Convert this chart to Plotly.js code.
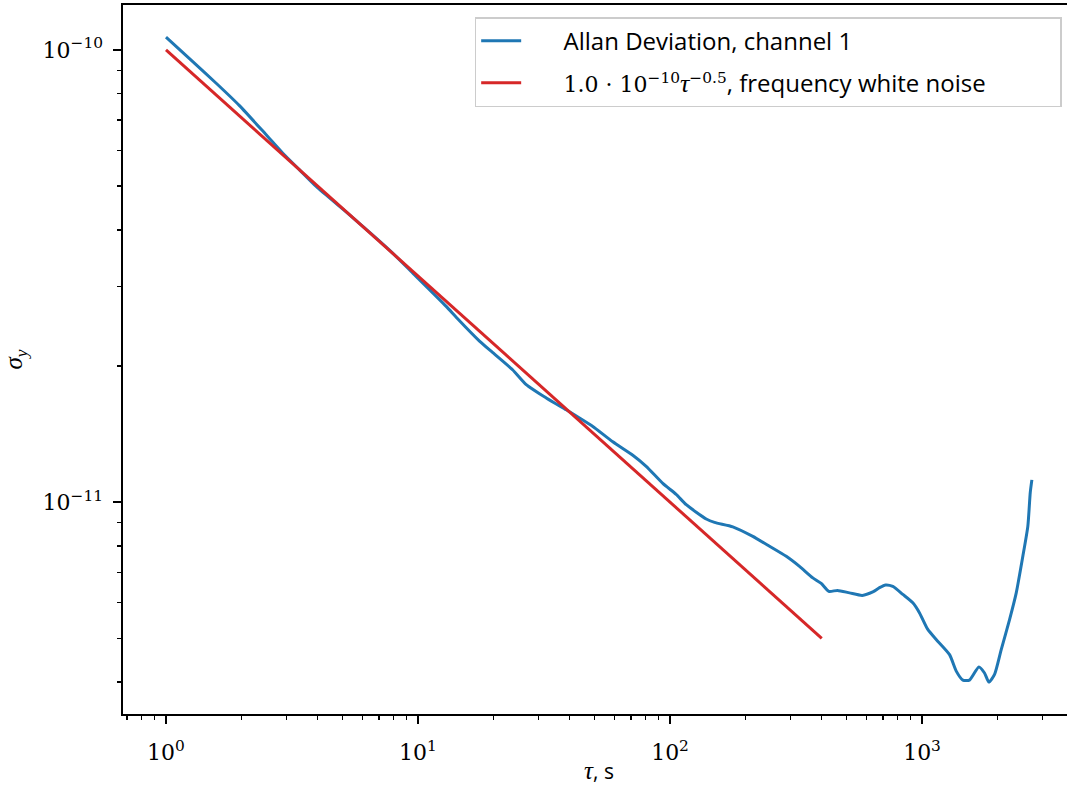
<!DOCTYPE html>
<html>
<head>
<meta charset="utf-8">
<script src="https://cdn.plot.ly/plotly-3.0.1.min.js"></script>
<style>
  html, body { margin: 0; padding: 0; background: #ffffff; overflow: hidden; }
  #chart { width: 1080px; height: 789px; }
</style>
</head>
<body>
<div id="chart"></div>
<script>
// Averaging time tau (s) and measured Allan deviation, channel 1
const tau = [1, 1.277, 1.582, 1.957, 2.498, 2.908, 3.387, 3.945, 5.349, 7.706,
  9.537, 12.94, 14.30, 17.54, 19.81, 23.78, 26.88, 32.28, 38.73, 43.74,
  49.40, 59.29, 71.18, 80.44, 93.63, 105.8, 116.0, 139.2, 150.2, 177.5,
  213.1, 248.3, 289.2, 326.5, 368.7, 398.1, 426.8, 462.0, 515.6, 579.2,
  638.0, 678.2, 716.5, 765.9, 839.0, 919.3, 977.5, 1054, 1138, 1286,
  1367, 1452, 1543, 1681, 1770, 1842, 1940, 2062, 2225, 2365,
  2512, 2629, 2688, 2728];
const adev = [1.067e-10, 9.42e-11, 8.44e-11, 7.53e-11, 6.49e-11, 5.91e-11, 5.43e-11, 4.99e-11, 4.32e-11, 3.61e-11,
  3.21e-11, 2.71e-11, 2.55e-11, 2.27e-11, 2.14e-11, 1.96e-11, 1.82e-11, 1.70e-11, 1.60e-11, 1.535e-11,
  1.47e-11, 1.36e-11, 1.27e-11, 1.20e-11, 1.10e-11, 1.04e-11, 9.87e-12, 9.18e-12, 9.02e-12, 8.82e-12,
  8.40e-12, 7.99e-12, 7.59e-12, 7.21e-12, 6.80e-12, 6.61e-12, 6.35e-12, 6.38e-12, 6.30e-12, 6.22e-12,
  6.33e-12, 6.47e-12, 6.56e-12, 6.51e-12, 6.25e-12, 5.99e-12, 5.69e-12, 5.23e-12, 4.97e-12, 4.60e-12,
  4.23e-12, 4.04e-12, 4.04e-12, 4.32e-12, 4.19e-12, 4.00e-12, 4.16e-12, 4.72e-12, 5.50e-12, 6.30e-12,
  7.59e-12, 8.84e-12, 1.05e-11, 1.12e-11];

// White frequency noise reference: 1.0e-10 * tau^-0.5, drawn between its end points
const fitTau = [1, 400];
const fitSigma = [1.0e-10, 5.0e-12];

// Tick positions and labels
const xMajor = [1, 10, 100, 1000];
const xMajorText = ['10<sup>0</sup>', '10<sup>1</sup>', '10<sup>2</sup>', '10<sup>3</sup>'];
const xMinor = [0.7, 0.8, 0.9, 2, 3, 4, 5, 6, 7, 8, 9, 20, 30, 40, 50, 60, 70, 80, 90,
  200, 300, 400, 500, 600, 700, 800, 900, 2000, 3000, 4000];
const yMajor = [1e-11, 1e-10];
const yMajorText = ['10<sup>−11</sup>', '10<sup>−10</sup>'];
const yMinor = [4e-12, 5e-12, 6e-12, 7e-12, 8e-12, 9e-12,
  2e-11, 3e-11, 4e-11, 5e-11, 6e-11, 7e-11, 8e-11, 9e-11];

const SANS = 'Open Sans, DejaVu Sans, sans-serif';
const SERIF = 'DejaVu Serif, Liberation Serif, serif';
const SERIF_IT = 'Liberation Serif, Times New Roman, serif';

// Legend labels; the spaces around them set the gap after the line sample and the box width
const lead = '&nbsp;&nbsp;&nbsp;&nbsp;&nbsp;&nbsp;';
const pad = '&nbsp;&nbsp;&nbsp;&nbsp;&nbsp;&nbsp;&nbsp;&nbsp;&nbsp;&nbsp;&nbsp;';
const labelAdev = lead + 'Allan Deviation, channel 1';
const labelFit = lead + '<span style="font-family:' + SERIF + ';font-size:22px">1.0 · 10<sup>−10</sup></span>' +
  '<span style="font-family:' + SERIF_IT + ';font-size:26px"><i>τ</i></span>' +
  '<span style="font-family:' + SERIF + ';font-size:22px"><sup>−0.5</sup></span>, frequency white noise' + pad;

const traces = [
  {
    x: tau, y: adev, type: 'scatter', mode: 'lines',
    name: labelAdev, legendgroup: 'adev',
    line: { color: '#1f77b4', width: 3, shape: 'spline', smoothing: 0.6 }
  },
  {
    x: fitTau, y: fitSigma, type: 'scatter', mode: 'lines',
    name: labelFit, legendgroup: 'fit',
    line: { color: '#d62728', width: 3 }
  }
];

const axisCommon = {
  type: 'log',
  showgrid: false, zeroline: false,
  showline: true, linecolor: '#000000', linewidth: 1.6, mirror: true,
  ticks: 'outside', ticklen: 8, tickwidth: 1.6, tickcolor: '#000000',
  tickmode: 'array',
  tickfont: { family: SERIF, size: 22, color: '#000000' }
};

const layout = {
  width: 1080, height: 789,
  margin: { l: 123, r: 5, t: 5, b: 75 },
  paper_bgcolor: '#ffffff', plot_bgcolor: '#ffffff',
  showlegend: true,
  xaxis: Object.assign({}, axisCommon, {
    range: [-0.1706, 3.607],
    tickvals: xMajor, ticktext: xMajorText,
    ticklabelstandoff: 10,
    minor: { tickmode: 'array', tickvals: xMinor, ticks: 'outside', ticklen: 4.5, tickwidth: 1.2, tickcolor: '#000000', showgrid: false },
    title: { text: '<span style="font-family:' + SERIF_IT + ';font-size:25px"><i>τ</i></span>, s', font: { family: SANS, size: 21, color: '#000000' }, standoff: 0 }
  }),
  yaxis: Object.assign({}, axisCommon, {
    range: [-11.4685, -9.9006],
    tickvals: yMajor, ticktext: yMajorText,
    ticklabelstandoff: 6,
    minor: { tickmode: 'array', tickvals: yMinor, ticks: 'outside', ticklen: 4.5, tickwidth: 1.2, tickcolor: '#000000', showgrid: false },
    title: { text: '<i>σ</i><sub><i>y</i></sub>', font: { family: SERIF_IT, size: 25, color: '#000000' }, standoff: 20 }
  }),
  legend: {
    x: 0.986, y: 0.983, xanchor: 'right', yanchor: 'top',
    bgcolor: 'rgba(255,255,255,0.8)', bordercolor: '#cccccc', borderwidth: 1.5,
    font: { family: SANS, size: 24, color: '#000000' },
    itemwidth: 40, tracegroupgap: 8
  }
};

Plotly.newPlot('chart', traces, layout, { displayModeBar: false, staticPlot: true });
</script>
</body>
</html>
